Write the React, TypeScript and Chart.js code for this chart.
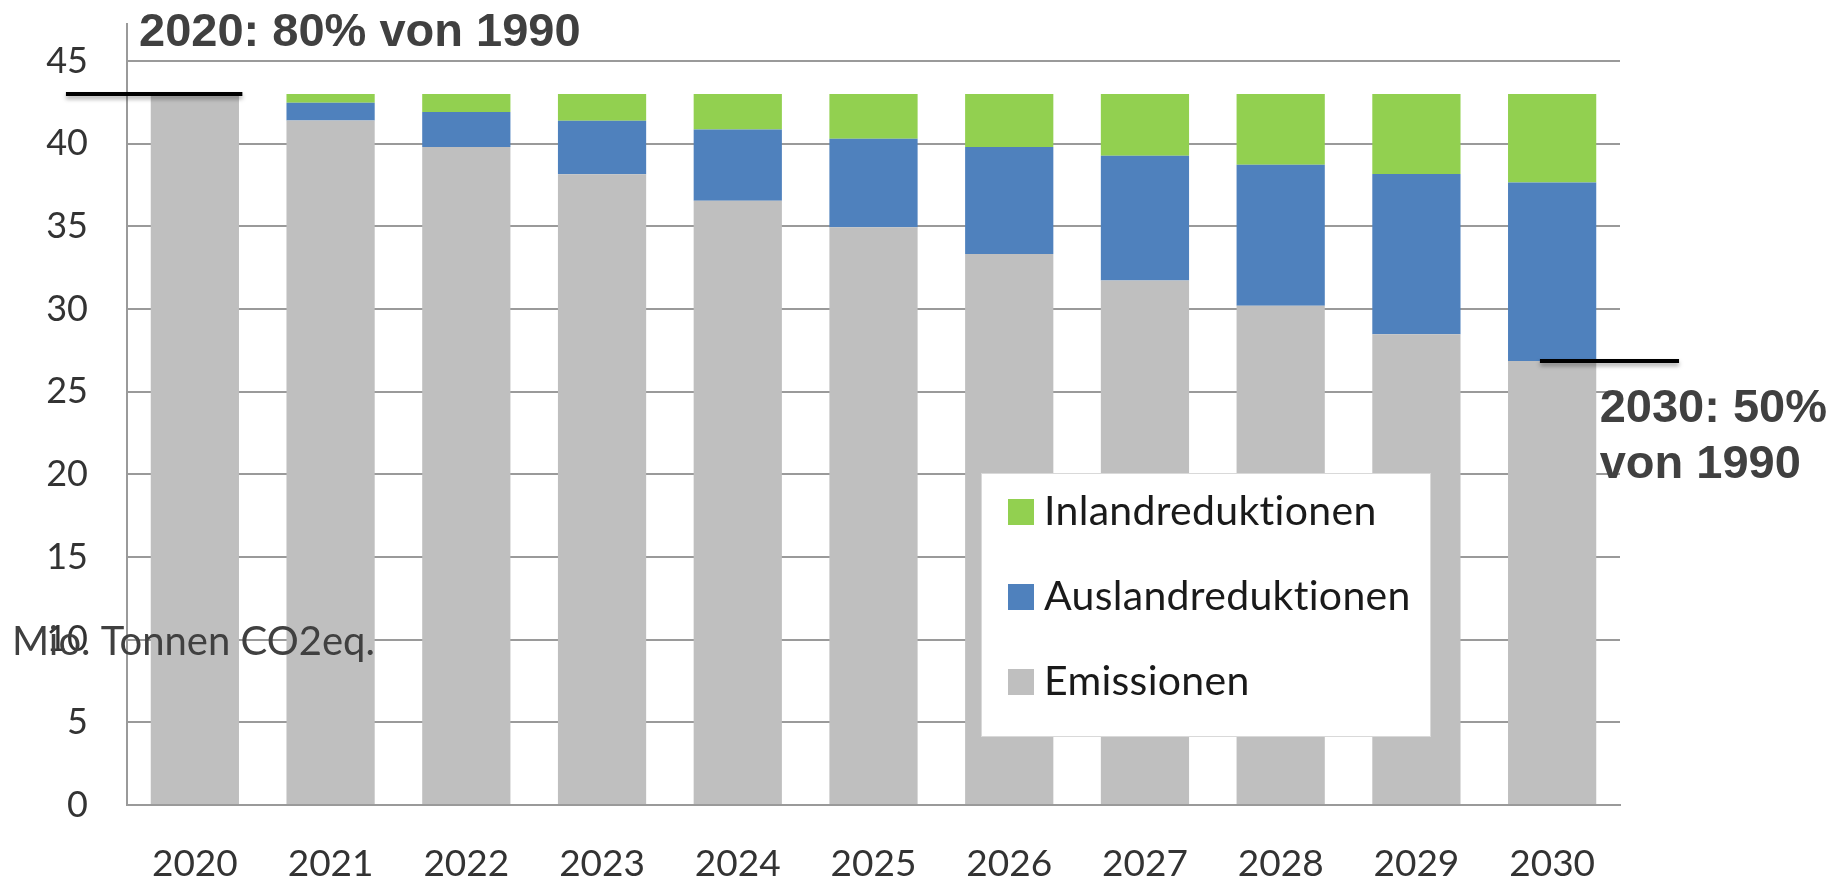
import React, { useEffect, useRef } from "react";
import { Chart, registerables } from "chart.js";

Chart.register(...registerables);

const years = ["2020", "2021", "2022", "2023", "2024", "2025", "2026", "2027", "2028", "2029", "2030"];
const emissionen = [43, 41.4, 39.8, 38.15, 36.55, 34.95, 33.33, 31.73, 30.2, 28.47, 26.85];
const auslandreduktionen = [0, 1.07, 2.12, 3.23, 4.3, 5.35, 6.47, 7.54, 8.52, 9.7, 10.8];
const inlandreduktionen = [0, 0.53, 1.08, 1.62, 2.15, 2.7, 3.2, 3.73, 4.28, 4.83, 5.35];
const yMax = 45;
const yStep = 5;

const seriesLabels = ["Emissionen", "Auslandreduktionen", "Inlandreduktionen"];
const seriesColors = ["#BFBFBF", "#4F81BD", "#92D050"];

const titleLeft = "2020: 80% von 1990";
const titleRight = ["2030: 50%", "von 1990"];
const unitLabel = "Mio. Tonnen CO2eq.";

const FONT = 'Lato, "Open Sans", sans-serif';
const BOLD = '"Liberation Sans", Arial, sans-serif';

const overlayPlugin = {
  id: "overlay",
  afterDraw(chart: any) {
    const { ctx, chartArea } = chart;
    const x = chart.scales.x;
    const y = chart.scales.y;
    const pitch = x.getPixelForValue(1) - x.getPixelForValue(0);
    ctx.save();

    // axis line extends above the top gridline
    ctx.strokeStyle = "#9a9a9a";
    ctx.lineWidth = 2;
    ctx.beginPath();
    ctx.moveTo(chartArea.left, chartArea.top);
    ctx.lineTo(chartArea.left, chartArea.top - 38);
    ctx.stroke();

    // reference lines
    ctx.strokeStyle = "#000";
    ctx.lineWidth = 4;
    ctx.shadowColor = "rgba(0,0,0,0.35)";
    ctx.shadowBlur = 4;
    ctx.shadowOffsetY = 3;
    const yL = y.getPixelForValue(emissionen[0]);
    ctx.beginPath();
    ctx.moveTo(chartArea.left - 0.45 * pitch, yL);
    ctx.lineTo(x.getPixelForValue(0) + 0.35 * pitch, yL);
    ctx.stroke();
    const last = emissionen.length - 1;
    const yR = y.getPixelForValue(emissionen[last]);
    ctx.beginPath();
    ctx.moveTo(x.getPixelForValue(last) - 0.09 * pitch, yR);
    ctx.lineTo(x.getPixelForValue(last) + 0.935 * pitch, yR);
    ctx.stroke();
    ctx.shadowColor = "transparent";

    // annotation texts
    ctx.fillStyle = "#404040";
    ctx.font = `bold 47px ${BOLD}`;
    ctx.textAlign = "left";
    ctx.textBaseline = "middle";
    ctx.fillText(titleLeft, chartArea.left + 12, 33);
    const xr = x.getPixelForValue(last) + 0.35 * pitch;
    ctx.fillText(titleRight[0], xr, yR + 48);
    ctx.fillText(titleRight[1], xr, yR + 104);

    // unit label
    ctx.font = `40px ${FONT}`;
    ctx.fillStyle = "#404040";
    ctx.fillText(unitLabel, 12, 642);

    // legend
    const bx = chartArea.left + 854;
    const by = 473;
    const bw = 450;
    const bh = 264;
    ctx.fillStyle = "#fff";
    ctx.fillRect(bx, by, bw, bh);
    ctx.strokeStyle = "#d9d9d9";
    ctx.lineWidth = 1;
    ctx.strokeRect(bx + 0.5, by + 0.5, bw - 1, bh - 1);
    const ds = chart.data.datasets.slice().reverse();
    ctx.font = `41px ${FONT}`;
    try {
      ctx.letterSpacing = "0.3px";
    } catch (e) {}
    ds.forEach((d: any, i: number) => {
      const cy = by + 39 + i * 85;
      ctx.fillStyle = d.backgroundColor;
      ctx.fillRect(bx + 27, cy - 13, 26, 26);
      ctx.fillStyle = "#1a1a1a";
      ctx.fillText(d.label, bx + 63, cy);
    });
    ctx.restore();
  },
};

export default function App() {
  const ref = useRef<HTMLCanvasElement>(null);
  useEffect(() => {
    document.body.style.margin = "0";
    const data = [emissionen, auslandreduktionen, inlandreduktionen];
    const chart = new Chart(ref.current as HTMLCanvasElement, {
      type: "bar",
      data: {
        labels: years,
        datasets: data.map((d, i) => ({
          label: seriesLabels[i],
          data: d,
          backgroundColor: seriesColors[i],
          borderWidth: 0,
          barPercentage: 0.65,
          categoryPercentage: 1,
        })),
      },
      options: {
        responsive: false,
        animation: false,
        layout: { padding: { top: 61, right: 215, bottom: 0, left: 0 } },
        plugins: { legend: { display: false }, tooltip: { enabled: false } },
        scales: {
          x: {
            stacked: true,
            grid: { display: false, drawTicks: false },
            border: { display: true, color: "#9a9a9a", width: 2 },
            ticks: { color: "#333", font: { family: FONT, size: 37 }, padding: 37 },
            afterFit: (s: any) => {
              s.height = 75;
            },
          },
          y: {
            stacked: true,
            min: 0,
            max: yMax,
            grid: { color: "#9a9a9a", lineWidth: 2, drawTicks: false },
            border: { display: true, color: "#9a9a9a", width: 2 },
            ticks: { stepSize: yStep, color: "#333", font: { family: FONT, size: 36 }, padding: 39 },
            afterFit: (s: any) => {
              s.width = 127;
            },
          },
        },
      },
      plugins: [overlayPlugin],
    });
    return () => chart.destroy();
  }, []);
  return (
    <div style={{ width: 1835, height: 880 }}>
      <canvas ref={ref} width={1835} height={880} style={{ display: "block" }} />
    </div>
  );
}
